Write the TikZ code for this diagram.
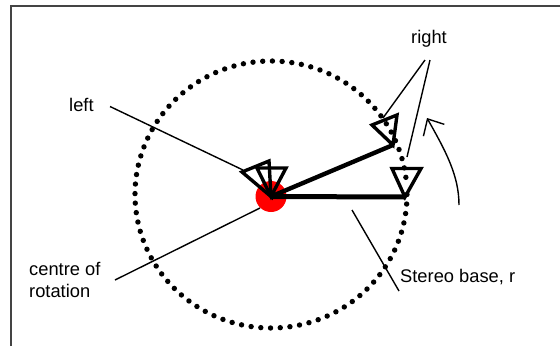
\documentclass[tikz,border=0pt]{standalone}
\usepackage{fontspec}
\setmainfont{Liberation Sans}
\usepackage{xcolor}
\usetikzlibrary{calc,arrows.meta}
\definecolor{framex}{HTML}{444444}
\definecolor{redx}{HTML}{FF0000}
\tikzset{
  lab/.style={font=\fontsize{18.3}{21.5}\selectfont,anchor=base west,inner sep=0pt},
  thinl/.style={line width=1.4pt,black},
  base/.style={line width=5pt,black},
  eye/.style={line width=3.4pt,black,line join=miter},
  ar/.style={-{Straight Barb[length=13pt,width=24pt,line width=1.4pt]},line width=1.4pt,black}
}
\begin{document}
\begin{tikzpicture}[x=1pt,y=-1pt]
\useasboundingbox (0,0) rectangle (560,346);
\def\cx{271}\def\cy{194.5}
% frame, open at right and bottom
\draw[framex,line width=2.2pt] (11,346)--(11,6)--(560,6);
% camera path
\foreach \a in {0,4.1,...,356}
  \fill ({\cx+136*cos(\a)},{\cy+133.5*sin(\a)}) circle (2.7);
\coordinate (O) at (271,196.5);
\fill[redx] (O) circle (15.5);
% eye positions
\coordinate (E1) at (405,197); \coordinate (E2) at (393,145);
\draw[eye] (O)--(257,168)--(286,168)--cycle;
\draw[eye] (O)--(242,172)--(269,161)--cycle;
\draw[eye] (E1)--(392,168.5)--(421,168.5)--cycle;
\draw[eye] (E2)--(372,125)--(397,115)--cycle;
\draw[base] (O)--(E1);
\draw[base,line width=4.4pt] (O)--(E2);
% labels
\node[lab] (left) at (69,111) {left};
\node[lab] (right) at (411,43) {right};
\node[lab] (centre) at (29,275) {centre of};
\node[lab] (rotation) at (29,297) {rotation};
\node[lab] (stereo) at (400,282) {Stereo base, r};
% leaders
\coordinate (l1) at (110,106.5); \coordinate (l2) at (243,170);
\coordinate (c1) at (115,280); \coordinate (c2) at (260,208);
\coordinate (r1) at (425,60); \coordinate (r2) at (383,118);
\coordinate (r3) at (430,60); \coordinate (r4) at (407,157);
\coordinate (s1) at (352,210); \coordinate (s2) at (399,291);
\draw[thinl] (l1)--(l2);
\draw[thinl] (c1)--(c2);
\draw[thinl] (r1)--(r2);
\draw[thinl] (r3)--(r4);
\draw[thinl] (s1)--(s2);
% direction of rotation
\coordinate (a1) at (459,205); \coordinate (a2) at (427,118);
\draw[ar] (a1) .. controls (459,175) and (445,150) .. (a2);
\end{tikzpicture}
\end{document}
